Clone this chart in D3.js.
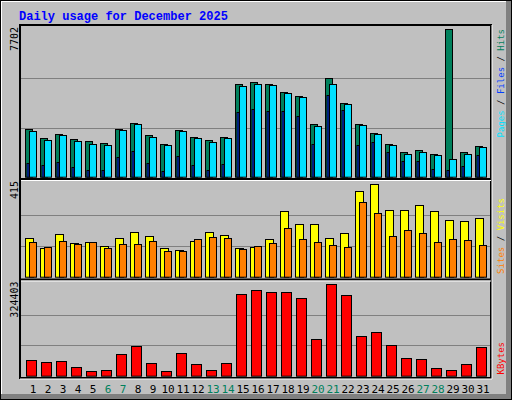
<!DOCTYPE html>
<html><head><meta charset="utf-8">
<script src="https://cdn.jsdelivr.net/npm/d3@7"></script>
<style>body{margin:0;background:#fff}svg{display:block;font-family:"DejaVu Sans Mono",monospace}</style>
</head><body><svg id="chart" width="512" height="400"></svg>
<script>
// valores
const days = d3.range(1, 32);
const weekend = [6, 7, 13, 14, 20, 21, 27, 28];
const hits = [2474,2004,2213,1952,1847,1743,2474,2788,2161,1690,2422,2056,1899,2056,4827,4931,4827,4409,4199,2736,5140,3834,2736,2265,1690,1272,1377,1167,7702,1272,1586];
const files = [2370,1899,2161,1847,1690,1638,2422,2736,2056,1638,2370,2004,1795,2004,4722,4827,4774,4356,4147,2631,4827,3781,2683,2213,1638,1167,1272,1115,906,1167,1533];
const pages = [697,592,749,488,331,331,1011,1324,697,279,1063,592,331,645,3363,3520,3415,3415,3154,1690,4252,3468,1638,1795,1272,802,802,383,331,540,1115];
const visits = [172,127,190,150,154,136,172,199,181,127,118,159,199,186,127,132,168,294,235,235,172,195,383,415,298,298,321,294,253,249,262];
const sites = [154,132,159,145,154,127,145,145,159,114,114,168,177,172,123,136,150,217,168,154,141,132,334,285,181,208,195,154,168,163,141];
const kbytes = [54460,47360,50910,29600,15390,18940,75780,104190,43810,15390,79330,40260,18940,43810,288900,303100,296000,296000,274700,129060,324403,285340,139710,153920,107740,61570,58020,26050,18940,40260,100640];

const svg = d3.select("#chart");

// fundo e bordas 3D
svg.append("rect").attr("width", 512).attr("height", 400).attr("fill", "#000");
svg.append("rect").attr("x", 1).attr("y", 1).attr("width", 510).attr("height", 398).attr("fill", "#808080");
svg.append("rect").attr("x", 1).attr("y", 1).attr("width", 505).attr("height", 393).attr("fill", "#fff");
svg.append("rect").attr("x", 2).attr("y", 2).attr("width", 504).attr("height", 392).attr("fill", "#c0c0c0");

svg.append("text").attr("x", 19).attr("y", 20)
    .attr("font-family", "Liberation Mono").attr("font-weight", "bold").attr("font-size", 12)
    .attr("fill", "#0000ff").text("Daily usage for December 2025");

// área do gráfico
svg.append("rect").attr("x", 20).attr("y", 25).attr("width", 471).attr("height", 353)
    .attr("fill", "#c0c0c0").attr("stroke", "#000").attr("stroke-width", 2);
svg.append("line").attr("x1", 492).attr("x2", 492).attr("y1", 25).attr("y2", 379).attr("stroke", "#fff");
svg.append("line").attr("x1", 20).attr("x2", 492).attr("y1", 379).attr("y2", 379).attr("stroke", "#fff");

const x = d3.scaleBand().domain(days).range([25, 490]).paddingInner(0);

const panels = [
    { top: 25, bottom: 179, y0: 176.7, y1: 29.3, max: 7702 },
    { top: 179, bottom: 279.5, y0: 276.7, y1: 184.3, max: 415 },
    { top: 279.5, bottom: 378, y0: 375.7, y1: 284.3, max: 324403 }
];
panels.forEach(p => { p.y = d3.scaleLinear().domain([0, p.max]).range([p.y0, p.y1]); });

panels.forEach((p, i) => {
    if (i > 0) {
        svg.append("line").attr("x1", 20).attr("x2", 491).attr("y1", p.top).attr("y2", p.top)
            .attr("stroke", "#000").attr("stroke-width", 2);
        svg.append("line").attr("x1", 21).attr("x2", 491).attr("y1", p.top + 1.5).attr("y2", p.top + 1.5).attr("stroke", "#fff");
    }
    [1, 2].forEach(k => {
        const gy = Math.round(p.y(p.max * k / 3)) + 0.5;
        svg.append("line").attr("x1", 21).attr("x2", 490).attr("y1", gy).attr("y2", gy).attr("stroke", "#808080");
    });
    svg.append("text").attr("transform", `translate(18,${p.top + 2}) rotate(-90)`)
        .attr("text-anchor", "end").attr("font-size", 10).attr("fill", "#000").text(p.max);
});

function bars(data, p, dx, w, color) {
    svg.append("g").selectAll("rect").data(data).enter().append("rect")
        .attr("x", (d, i) => x(days[i]) + dx + 0.5)
        .attr("y", d => Math.round(p.y(d)) + 0.5)
        .attr("width", w)
        .attr("height", d => p.y0 - Math.round(p.y(d)))
        .attr("fill", color).attr("stroke", "#000").attr("stroke-width", 1);
}
bars(hits, panels[0], 0, 7, "#00805c");
bars(files, panels[0], 4, 7, "#00e0ff");
bars(pages, panels[0], 1.5, 2, "#0040ff");
bars(visits, panels[1], 0, 8, "#ffff00");
bars(sites, panels[1], 4, 7, "#ff8000");
bars(kbytes, panels[2], 1, 10, "#ff0000");

// rótulos do eixo X
svg.append("g").selectAll("text").data(days).enter().append("text")
    .attr("x", d => x(d) + 8).attr("y", 393).attr("text-anchor", "middle")
    .attr("font-size", 11).attr("fill", d => weekend.includes(d) ? "#00805c" : "#000")
    .text(d => d);

// legendas à direita
function legend(yTop, parts) {
    const t = svg.append("text").attr("transform", `translate(504,${yTop}) rotate(-90)`)
        .attr("text-anchor", "end").attr("font-size", 9);
    parts.forEach(([s, c]) => t.append("tspan").attr("fill", c).attr("xml:space", "preserve").text(s));
}
legend(29, [["Pages", "#00e0ff"], [" / ", "#000"], ["Files", "#0040ff"], [" / ", "#000"], ["Hits", "#00805c"]]);
legend(198, [["Sites", "#ff8000"], [" / ", "#000"], ["Visits", "#ffff00"]]);
legend(342, [["KBytes", "#ff0000"]]);
</script></body></html>
